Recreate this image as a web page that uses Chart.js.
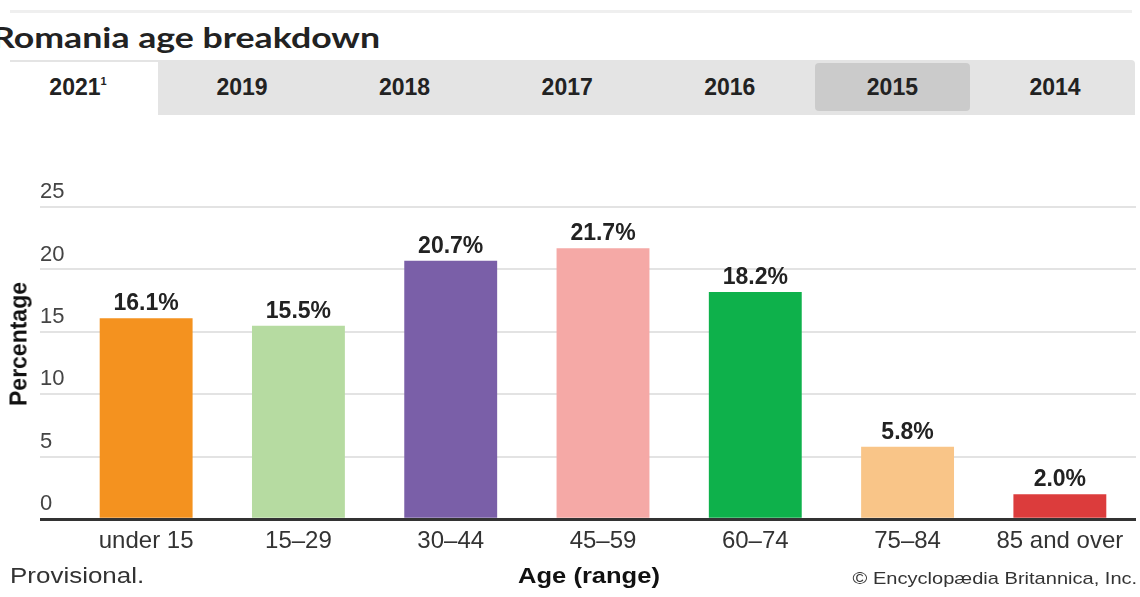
<!DOCTYPE html>
<html>
<head>
<meta charset="utf-8">
<script src="https://cdn.jsdelivr.net/npm/chart.js@4.4.1/dist/chart.umd.min.js"></script>
<style>
  body { margin: 0; background: #fff; font-family: Arial, "Liberation Sans", sans-serif; }
  .page { position: relative; width: 1140px; height: 597px; overflow: hidden; }
  .topline { position: absolute; left: 10px; top: 10px; width: 1122px; height: 3px; background: #efefef; }
  .title { position: absolute; left: -8px; top: 19px; font: bold 29px Lato, sans-serif; color: #222; white-space: nowrap; transform: scaleX(1.23); transform-origin: left top; }
  .tabs { position: absolute; left: 10px; top: 60px; width: 1125px; height: 55px; background: #e4e4e4; border-radius: 0 4px 0 0; }
  .tab { position: absolute; top: 0; height: 55px; line-height: 55px; text-align: center; font-weight: bold; font-size: 23px; color: #222; box-sizing: border-box; }
  .tab.active { background: #fff; top: 2px; height: 55px; line-height: 51px; padding-right: 12px; }
  .tab.hover { background: #cbcbcb; top: 3px; height: 48px; line-height: 48px; border-radius: 4px; }
  .tab sup { font-size: 11px; position: relative; top: -10px; vertical-align: baseline; line-height: 0; }
  canvas { position: absolute; left: 0; top: 0; }
  .ytitle { position: absolute; left: 19px; top: 344px; transform: translate(-50%, -50%) rotate(-90deg); font-weight: bold; font-size: 23px; color: #111; white-space: nowrap; }
  .note { position: absolute; left: 10px; top: 563px; font-size: 22px; color: #333; transform: scaleX(1.18); transform-origin: left top; }
  .xtitle { position: absolute; left: 589px; top: 563px; transform: translateX(-50%) scaleX(1.16); font-weight: bold; font-size: 22px; color: #111; }
  .credit { position: absolute; right: 3px; top: 569px; font-size: 17px; color: #333; transform: scaleX(1.18); transform-origin: right top; }
</style>
</head>
<body>
<div class="page">
  <div class="topline"></div>
  <div class="title">Romania age breakdown</div>
  <div class="tabs" id="tabs"></div>
  <canvas id="ageChart" width="1140" height="597"></canvas>
  <div class="ytitle">Percentage</div>
  <div class="note">Provisional.</div>
  <div class="xtitle">Age (range)</div>
  <div class="credit">© Encyclopædia Britannica, Inc.</div>
</div>
<script>
const years = ['2021', '2019', '2018', '2017', '2016', '2015', '2014'];
const ageGroups = ['under 15', '15–29', '30–44', '45–59', '60–74', '75–84', '85 and over'];
const shares = [16.1, 15.5, 20.7, 21.7, 18.2, 5.8, 2.0];
const barColors = ['#f4921f', '#b6dba1', '#7a5fa8', '#f5a9a6', '#0eb14b', '#f9c588', '#dc3c3c'];
const yTicks = [0, 5, 10, 15, 20, 25];

// tab strip
const tabs = document.querySelector('#tabs');
years.forEach((year, i) => {
  const tab = document.createElement('div');
  tab.className = 'tab';
  if (i === 0) {
    tab.classList.add('active');
    tab.style.left = '0px';
    tab.style.width = '148px';
    tab.innerHTML = `${year}<sup>1</sup>`;
  } else {
    const center = 232 + (i - 1) * 162.6;
    tab.style.left = (center - 77.5) + 'px';
    tab.style.width = '155px';
    tab.textContent = year;
    if (year === '2015') tab.classList.add('hover');
  }
  tabs.appendChild(tab);
});

const valueLabels = {
  id: 'valueLabels',
  afterDatasetsDraw(chart) {
    const ctx = chart.ctx;
    const meta = chart.getDatasetMeta(0);
    ctx.save();
    ctx.font = 'bold 23px Arial, "Liberation Sans", sans-serif';
    ctx.fillStyle = '#222';
    ctx.textAlign = 'center';
    ctx.textBaseline = 'alphabetic';
    meta.data.forEach((bar, i) => {
      ctx.fillText(shares[i].toFixed(1) + '%', bar.x, bar.y - 8);
    });
    ctx.restore();
  }
};

const lineFor = (ctx) => (ctx.tick && ctx.tick.value === 0 ? '#333' : '#e3e3e3');
const widthFor = (ctx) => (ctx.tick && ctx.tick.value === 0 ? 3 : 2);

new Chart(document.querySelector('#ageChart'), {
  type: 'bar',
  data: {
    labels: ageGroups,
    datasets: [{
      data: shares,
      backgroundColor: barColors,
      barPercentage: 0.61,
      categoryPercentage: 1
    }]
  },
  options: {
    responsive: false,
    devicePixelRatio: 1,
    animation: false,
    layout: { padding: { top: 207, left: 40, right: 4, bottom: 41 } },
    plugins: { legend: { display: false }, tooltip: { enabled: false } },
    scales: {
      x: {
        grid: { display: false },
        border: { display: false },
        ticks: {
          color: '#333',
          padding: 0,
          font: { family: 'Arial, "Liberation Sans", sans-serif', size: 24 }
        }
      },
      y: {
        min: 0,
        max: 25,
        afterBuildTicks: (scale) => { scale.ticks = yTicks.map((v) => ({ value: v })); },
        afterFit: (scale) => { scale.width = 30; },
        border: { display: false },
        grid: { color: lineFor, tickColor: lineFor, lineWidth: widthFor, tickLength: 30 },
        ticks: {
          color: '#444',
          crossAlign: 'far',
          padding: 0,
          labelOffset: -15,
          font: { family: 'Arial, "Liberation Sans", sans-serif', size: 22 }
        }
      }
    }
  },
  plugins: [valueLabels]
});
</script>
</body>
</html>
